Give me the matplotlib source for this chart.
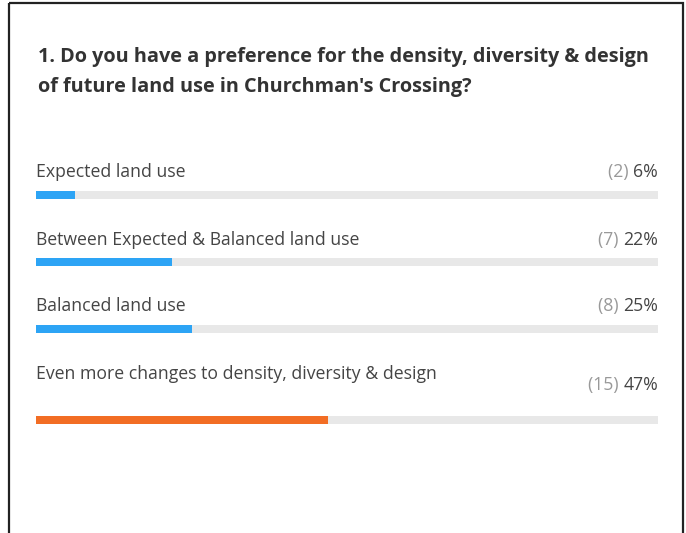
import matplotlib.pyplot as plt
from matplotlib.patches import Rectangle

plt.rcParams['font.family'] = ['Open Sans', 'DejaVu Sans']

title = "1. Do you have a preference for the density, diversity & design\nof future land use in Churchman's Crossing?"
options = ["Expected land use",
           "Between Expected & Balanced land use",
           "Balanced land use",
           "Even more changes to density, diversity & design"]
counts = [2, 7, 8, 15]
pct_labels = ["6%", "22%", "25%", "47%"]
colors = ["#2da4f5", "#2da4f5", "#2da4f5", "#f26d24"]

W, H = 686, 533
fig = plt.figure(figsize=(W / 100, H / 100), dpi=100)

# frame around the card
bg = fig.add_axes([0, 0, 1, 1])
bg.set_xlim(0, W)
bg.set_ylim(H, 0)
bg.axis("off")
bg.add_patch(Rectangle((9, 3), 674, 540, fill=False, edgecolor="#222222", linewidth=1.6))

# bars: track from x=36 to 658 px, y in pixels
ax = fig.add_axes([36 / W, 0, (658 - 36) / W, 1])
ax.set_xlim(0, 100)
ax.set_ylim(H, 0)
ax.axis("off")

bar_y = [194.5, 262, 328.5, 419.5]
label_y = [172, 240, 306, 374]
pct_y = [172, 240, 306, 385]
total = sum(counts)
shares = [c / total * 100 for c in counts]

ax.barh(bar_y, [100] * 4, height=8, color="#e8e8e8", left=0)
ax.barh(bar_y, shares, height=8, color=colors, left=0)

fig.text(38 / W, 1 - 72 / H, title, fontsize=14.3, fontweight="bold", color="#333333",
         va="center", ha="left", linespacing=1.72)

fs = 12.7
for lab, ly, py, c, p in zip(options, label_y, pct_y, counts, pct_labels):
    fig.text(36 / W, 1 - ly / H, lab, fontsize=fs, color="#454545", va="center", ha="left")
    fig.text(658 / W, 1 - py / H, p, fontsize=fs, color="#454545", va="center", ha="right")
    t = fig.text(0, 0, "(%d) " % c, fontsize=fs, color="#999999", va="center", ha="right")
    # place the count just left of the percentage
    fig.canvas.draw()
    r = fig.canvas.get_renderer()
    pw = fig.texts[-2].get_window_extent(r).width
    t.set_position(((658 - pw) / W, 1 - py / H))

fig.savefig("out.png", dpi=100)
